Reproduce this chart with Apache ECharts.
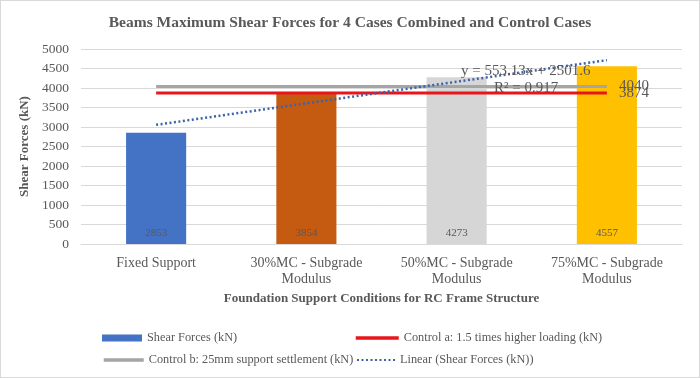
<!DOCTYPE html>
<html><head><meta charset="utf-8">
<script src="https://cdn.jsdelivr.net/npm/echarts@6/dist/echarts.min.js"></script>
<style>html,body{margin:0;padding:0;background:#fff}#c{width:698px;height:376px;border:1px solid #d9d9d9}</style>
</head><body><div id="c"></div>
<script>
var categories = ['Fixed Support', '30%MC - Subgrade\nModulus', '50%MC - Subgrade\nModulus', '75%MC - Subgrade\nModulus'];
var shearForces = [2853, 3854, 4273, 4557];
var controlA = [3874, 3874, 3874, 3874];
var controlB = [4040, 4040, 4040, 4040];
var trendValues = [3055, 3608, 4161, 4714];
var yTicks = {min: 0, max: 5000, interval: 500};
var barColors = ['#4472C4', '#C55A11', '#D6D6D6', '#FFC000'];
var equationText = 'y = 553.13x + 2501.6';
var r2Text = 'R² = 0.917';

var font = '"Liberation Serif", "Times New Roman", serif';
var txt = '#595959';
var chart = echarts.init(document.getElementById('c'));
var legTxt = {fontFamily: font, fontSize: 12.3, color: txt};
var endLbl = {show: true, distance: 12, fontFamily: font, fontSize: 15, color: txt,
  formatter: function(p){ return String(p.value); }};
chart.setOption({
  animation: false,
  textStyle: {fontFamily: font},
  title: {text: 'Beams Maximum Shear Forces for 4 Cases Combined and Control Cases', left: 'center', top: 9,
    textStyle: {fontFamily: font, fontSize: 15.5, fontWeight: 'bold', color: txt}},
  grid: {left: 80, right: 17, top: 48, bottom: 133},
  legend: [
    {left: 96, top: 326, itemWidth: 40, itemHeight: 7, data: [{name: 'Shear Forces (kN)', icon: 'rect', itemStyle: {color: '#4472C4'}}], textStyle: legTxt},
    {left: 348, top: 326, itemWidth: 43, itemHeight: 7, itemStyle: {opacity: 0}, lineStyle: {width: 3.5}, data: ['Control a: 1.5 times higher loading (kN)'], textStyle: legTxt},
    {left: 96, top: 348, itemWidth: 40, itemHeight: 7, itemStyle: {opacity: 0}, lineStyle: {width: 3.5}, data: ['Control b: 25mm support settlement (kN)'], textStyle: legTxt},
    {left: 350, top: 348, itemWidth: 38, itemHeight: 7, itemStyle: {opacity: 0}, data: ['Linear (Shear Forces (kN))'], textStyle: legTxt}
  ],
  xAxis: {type: 'category', data: categories, boundaryGap: true,
    name: 'Foundation Support Conditions for RC Frame Structure', nameLocation: 'middle', nameGap: 47,
    nameTextStyle: {fontFamily: font, fontSize: 13, fontWeight: 'bold', color: txt},
    axisLine: {lineStyle: {color: '#d9d9d9'}}, axisTick: {show: false},
    axisLabel: {fontFamily: font, fontSize: 14, color: txt, margin: 11, lineHeight: 16}},
  yAxis: {type: 'value', min: yTicks.min, max: yTicks.max, interval: yTicks.interval,
    name: 'Shear Forces (kN)', nameLocation: 'middle', nameGap: 43,
    nameTextStyle: {fontFamily: font, fontSize: 13, fontWeight: 'bold', color: txt},
    axisLabel: {fontFamily: font, fontSize: 13.5, color: txt, margin: 12, formatter: function(v){ return String(v); }},
    splitLine: {lineStyle: {color: '#d9d9d9'}}},
  series: [
    {name: 'Shear Forces (kN)', type: 'bar', barWidth: '40%',
      data: shearForces.map(function(v,i){return {value: v, itemStyle: {color: barColors[i]}};}),
      label: {show: true, position: 'insideBottom', distance: 5, fontFamily: font, fontSize: 11, color: txt}},
    {name: 'Control a: 1.5 times higher loading (kN)', type: 'line', symbol: 'none', z: 3,
      data: controlA, lineStyle: {color: '#E8151B', width: 3}, itemStyle: {color: '#E8151B'},
      endLabel: endLbl},
    {name: 'Control b: 25mm support settlement (kN)', type: 'line', symbol: 'none', z: 3,
      data: controlB, lineStyle: {color: '#A5A5A5', width: 3}, itemStyle: {color: '#A5A5A5'},
      endLabel: endLbl},
    {name: 'Linear (Shear Forces (kN))', type: 'line', symbol: 'none', z: 4,
      data: trendValues, lineStyle: {color: '#3B63AD', width: 2.5, type: [2, 2.5]}, itemStyle: {color: '#3B63AD'}}
  ],
  graphic: [
    {type: 'text', left: 460, top: 63, z: 10, style: {text: equationText, font: '15px ' + font, fill: txt}},
    {type: 'text', left: 493, top: 80, z: 10, style: {text: r2Text, font: '15px ' + font, fill: txt}}
  ]
});
</script></body></html>
